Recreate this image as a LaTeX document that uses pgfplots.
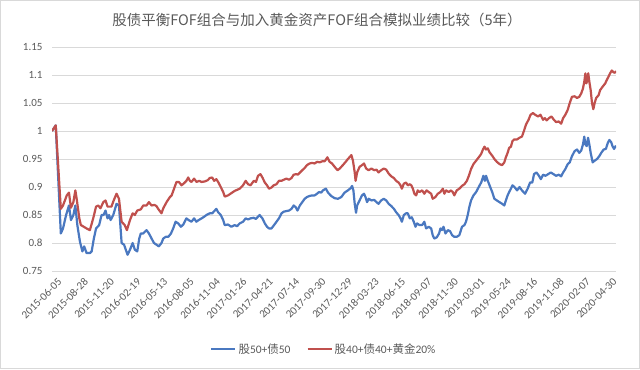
\documentclass[border=0pt]{standalone}
\usepackage{fontspec}
\setmainfont{Carlito}
\newfontfamily\cjk{Noto Sans CJK SC}
\usepackage{pgfplots}
\pgfplotsset{compat=1.18}
\definecolor{sblue}{HTML}{4A78C0}
\definecolor{sred}{HTML}{C0504D}
\definecolor{txt}{HTML}{595959}
\definecolor{gridc}{HTML}{D9D9D9}
\begin{document}
\begin{tikzpicture}[x=1bp,y=1bp]
\useasboundingbox (0,0) rectangle (640,369);
\draw[gridc, line width=0.75bp] (0.5,0.5) rectangle (639.5,368.5);
\node[text=txt, font=\cjk\fontsize{14.5bp}{17bp}\selectfont] at (317,349) {股债平衡FOF组合与加入黄金资产FOF组合模拟业绩比较（5年）};
\begin{axis}[
  at={(52bp,98bp)}, anchor=south west,
  width=564bp, height=224bp, scale only axis,
  xmin=0, xmax=256, ymin=0.75, ymax=1.15,
  ytick={0.75,0.8,0.85,0.9,0.95,1,1.05,1.1,1.15},
  xtick={0,12,...,252},
  xticklabels={2015-06-05,2015-08-28,2015-11-20,2016-02-19,2016-05-13,2016-08-05,2016-11-04,2017-01-26,2017-04-21,2017-07-14,2017-09-30,2017-12-29,2018-03-23,2018-06-15,2018-09-07,2018-11-30,2019-03-01,2019-05-24,2019-08-16,2019-11-08,2020-02-07,2020-04-30},
  /pgf/number format/assume math mode=true,
  axis line style={draw=none},
  major tick length=0,
  ymajorgrids,
  grid style={gridc, line width=0.75bp},
  tick label style={text=txt, font=\fontsize{11bp}{13bp}\selectfont},
  yticklabel style={xshift=-6bp},
  xticklabel style={rotate=45, anchor=north east, inner sep=1bp, yshift=-7bp},
  legend style={at={(axis description cs:0.482,-0.348)}, anchor=center, draw=none, fill=none,
    legend columns=2, font=\fontsize{11.5bp}{13bp}\selectfont, text=txt,
    /tikz/every even column/.append style={column sep=14bp}},
  legend image code/.code={\draw[#1, line width=2.2bp] (0,0) -- (24bp,0);},
  every axis plot/.append style={line width=2.2bp, line join=round, no markers},
]
\addplot[sblue] coordinates {
(0,1.000)(1.7,1.010)(4,0.817)(5,0.826)(6.4,0.850)(7.7,0.867)(8.6,0.841)(9.7,0.850)(10.6,0.867)(11.5,0.832)
(12.7,0.802)(13.8,0.785)(14.6,0.794)(15.7,0.782)(17.2,0.782)(18,0.785)(19,0.808)(20,0.826)(21.4,0.832)(22.5,0.850)
(23.4,0.850)(24.3,0.858)(25.2,0.844)(25.9,0.850)(26.6,0.841)(27.8,0.850)(29.3,0.870)(30.4,0.867)(31.6,0.800)(32.7,0.797)
(34.3,0.779)(35.4,0.788)(36.6,0.800)(37.6,0.788)(38.7,0.785)(39.6,0.808)(40.3,0.817)(41.4,0.817)(42.9,0.823)(44,0.817)
(45.2,0.808)(46.3,0.800)(47.4,0.797)(48.5,0.794)(49.7,0.800)(50.5,0.808)(51.6,0.811)(52.8,0.811)(54,0.817)(55,0.826)
(56.1,0.838)(57.3,0.835)(58.5,0.829)(59.6,0.833)(61,0.844)(62,0.841)(63.3,0.838)(64.5,0.844)(65.5,0.838)(66.6,0.841)
(67.9,0.844)(69.1,0.847)(70.1,0.850)(71.6,0.853)(72.7,0.853)(73.9,0.858)(74.6,0.861)(75.4,0.855)(76.6,0.850)(77.7,0.841)
(78.4,0.832)(79.9,0.833)(81.4,0.829)(82.9,0.832)(84,0.830)(85.2,0.835)(86.7,0.838)(87.9,0.844)(89,0.842)(90.1,0.844)
(91.6,0.845)(92.6,0.843)(93.5,0.847)(94.2,0.850)(95.5,0.844)(96.6,0.835)(97.6,0.829)(98.5,0.826)(99.6,0.826)(100.6,0.831)
(101.9,0.838)(103,0.844)(104.2,0.853)(105.2,0.856)(106.4,0.857)(107.6,0.858)(108.7,0.861)(109.7,0.867)(110.6,0.864)(111.4,0.858)
(112.5,0.867)(113.6,0.873)(114.7,0.879)(115.7,0.882)(116.9,0.884)(118.1,0.885)(119.2,0.885)(120.3,0.888)(121.2,0.891)(122.2,0.890)
(123,0.894)(124.3,0.897)(125.3,0.890)(126.7,0.884)(128.3,0.880)(129.8,0.879)(131.3,0.882)(132.8,0.890)(134.3,0.894)(135.6,0.898)
(136.2,0.902)(136.8,0.894)(137.4,0.870)(138,0.854)(138.5,0.867)(139.6,0.876)(140.7,0.885)(141.6,0.888)(142.3,0.882)(143,0.873)
(143.8,0.879)(145,0.876)(146.2,0.877)(147.3,0.873)(148.2,0.870)(149.4,0.876)(150.6,0.879)(151.7,0.876)(152.8,0.870)(154,0.866)
(155.2,0.861)(156.2,0.855)(157.3,0.850)(158.2,0.844)(158.8,0.838)(159.7,0.850)(160.7,0.853)(161.5,0.853)(162.4,0.844)(163.3,0.846)
(164.2,0.838)(165,0.829)(165.7,0.835)(166.8,0.832)(168,0.832)(169,0.838)(169.8,0.826)(171,0.829)(172.1,0.826)(172.8,0.814)
(173.5,0.808)(174.6,0.810)(175.7,0.817)(176.3,0.826)(177,0.823)(177.7,0.829)(178.6,0.817)(179.7,0.823)(180.7,0.821)(181.6,0.814)
(182.6,0.811)(183.7,0.811)(184.9,0.814)(186.1,0.829)(187.2,0.832)(187.9,0.838)(188.7,0.850)(189.4,0.864)(190.2,0.876)(191.3,0.885)
(192.5,0.891)(193.7,0.900)(194.8,0.908)(195.8,0.920)(196.5,0.911)(197,0.920)(197.8,0.911)(198.6,0.903)(199.8,0.891)(200.8,0.879)
(201.9,0.876)(203.1,0.873)(204.3,0.870)(205.3,0.867)(206,0.876)(206.8,0.885)(207.5,0.891)(208.3,0.897)(209,0.903)(209.9,0.900)
(211.1,0.894)(212.2,0.900)(213.3,0.894)(214.7,0.888)(215.9,0.897)(217,0.908)(218,0.908)(218.8,0.923)(219.9,0.926)(221,0.920)
(221.9,0.914)(222.9,0.922)(224,0.920)(225.2,0.923)(226.4,0.926)(227.6,0.923)(228.8,0.920)(230,0.922)(231.1,0.919)(232,0.926)
(233,0.932)(234.1,0.941)(235,0.944)(236,0.955)(237.2,0.964)(238.3,0.967)(239.3,0.961)(240.2,0.965)(241,0.976)(241.6,0.990)
(242.1,0.976)(242.7,0.973)(243.3,0.988)(243.9,0.976)(244.5,0.961)(245.4,0.944)(246.3,0.947)(247.4,0.950)(248.4,0.955)(249.3,0.961)
(250.4,0.967)(251.4,0.968)(252.3,0.979)(253,0.984)(253.8,0.980)(254.4,0.973)(255.1,0.968)(256,0.974)
};
\addlegendentry{{\cjk 股}50+{\cjk 债}50}
\addplot[sred] coordinates {
(0,1.000)(1.7,1.010)(4,0.861)(5,0.867)(6.7,0.885)(7.7,0.890)(8.6,0.863)(9.7,0.873)(10.6,0.894)(11.2,0.879)
(12.4,0.844)(13.1,0.832)(14,0.830)(15.7,0.826)(17.2,0.823)(18.7,0.844)(20,0.865)(21,0.867)(22,0.862)(23.3,0.873)
(24.3,0.876)(25.2,0.865)(27,0.865)(28,0.876)(29.3,0.888)(30.4,0.879)(31.6,0.838)(33,0.832)(34,0.823)(35.4,0.841)
(36.6,0.853)(37.6,0.850)(38.7,0.858)(40.3,0.860)(41.4,0.867)(42.9,0.867)(44,0.873)(45.2,0.867)(46.5,0.868)(47.4,0.866)
(48.2,0.861)(49.7,0.853)(50.5,0.862)(52,0.873)(53.5,0.882)(54.3,0.885)(55.4,0.897)(56.5,0.909)(57.6,0.909)(58.8,0.903)
(60,0.907)(61,0.911)(61.8,0.917)(62.6,0.911)(63.3,0.909)(64.5,0.915)(65.6,0.909)(66.8,0.911)(67.9,0.909)(69.4,0.910)
(70.6,0.912)(71.6,0.916)(72.7,0.917)(73.6,0.911)(74.6,0.914)(75.4,0.909)(76.6,0.900)(77.7,0.891)(78.4,0.883)(79.9,0.885)
(81.4,0.889)(82.9,0.893)(85.2,0.897)(86.7,0.903)(87.9,0.911)(89,0.905)(90.1,0.903)(91.6,0.911)(92.6,0.909)(93.5,0.920)
(94.6,0.923)(95.5,0.917)(96.6,0.908)(97.6,0.903)(98.5,0.897)(99.6,0.899)(100.6,0.903)(101.9,0.905)(103,0.911)(104.1,0.911)
(105.2,0.913)(106.4,0.915)(107.6,0.913)(108.7,0.916)(109.7,0.922)(110.9,0.923)(111.6,0.922)(112.6,0.926)(113.6,0.930)(114.7,0.934)
(115.7,0.939)(116.9,0.942)(118.1,0.943)(119.2,0.942)(120.3,0.945)(121.5,0.944)(122.7,0.946)(123.8,0.946)(125,0.953)(126,0.945)
(127.1,0.942)(128.3,0.936)(129.6,0.930)(130.6,0.933)(132,0.939)(133.1,0.944)(134.3,0.950)(135,0.953)(135.9,0.957)(136.6,0.947)
(137.4,0.926)(137.8,0.911)(138.5,0.926)(139.6,0.936)(140.7,0.939)(141.6,0.942)(142.6,0.933)(143.7,0.930)(145,0.933)(146.2,0.930)
(147.3,0.931)(148.2,0.926)(149.4,0.930)(150.6,0.933)(151.7,0.931)(152.8,0.924)(154,0.919)(155.2,0.916)(156.2,0.911)(157.3,0.908)
(158.2,0.903)(158.8,0.897)(159.7,0.906)(160.7,0.908)(161.5,0.903)(162.4,0.905)(163.1,0.903)(163.8,0.897)(164.5,0.888)(165.3,0.885)
(166,0.894)(166.8,0.891)(168,0.894)(169,0.888)(170,0.894)(171,0.891)(172.1,0.888)(172.8,0.879)(174,0.882)(175.1,0.888)
(176.3,0.891)(177.4,0.897)(178.1,0.888)(178.9,0.894)(180.1,0.891)(181.1,0.894)(181.9,0.891)(182.6,0.885)(183.7,0.894)(184.9,0.897)
(186.1,0.902)(187.2,0.905)(188.3,0.911)(189.2,0.920)(190.2,0.932)(191.3,0.941)(192.5,0.947)(193.7,0.953)(194.8,0.959)(195.6,0.967)
(196.3,0.972)(197,0.967)(197.8,0.969)(198.6,0.962)(199.8,0.956)(200.8,0.950)(201.9,0.945)(203.1,0.941)(204.3,0.939)(205.3,0.944)
(206,0.953)(206.8,0.961)(207.5,0.970)(208.3,0.972)(209,0.982)(209.8,0.985)(211.1,0.985)(212.2,0.988)(213.3,0.990)(214.2,1.000)
(215.2,1.012)(216.3,1.020)(217.2,1.029)(218.3,1.032)(219.3,1.029)(220.6,1.026)(221.7,1.029)(222.9,1.020)(223.7,1.023)(224.5,1.019)
(225.6,1.023)(226.7,1.026)(227.8,1.020)(228.8,1.016)(230,1.017)(231.1,1.013)(232,1.023)(233,1.029)(234.1,1.038)(235,1.050)
(236,1.061)(237.2,1.062)(238.3,1.059)(239.3,1.061)(240.2,1.067)(241,1.076)(241.6,1.088)(242.1,1.103)(242.5,1.085)(243,1.090)
(243.4,1.103)(243.9,1.088)(244.5,1.073)(245.1,1.050)(245.7,1.039)(246.3,1.050)(247,1.059)(248.1,1.064)(248.8,1.073)(249.9,1.079)
(251.1,1.085)(251.8,1.091)(252.6,1.097)(253.3,1.103)(254.1,1.108)(254.8,1.105)(255.5,1.104)(256,1.107)
};
\addlegendentry{{\cjk 股}40+{\cjk 债}40+{\cjk 黄金}20\%}
\end{axis}
\end{tikzpicture}
\end{document}
